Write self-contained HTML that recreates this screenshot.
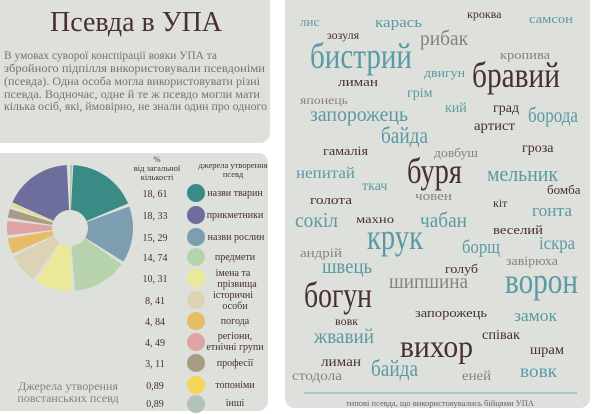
<!DOCTYPE html>
<html><head><meta charset="utf-8"><style>
html,body{margin:0;padding:0;background:#fff;width:600px;height:414px;overflow:hidden}
svg{display:block}
text{font-family:"Liberation Serif",serif}
.t{fill:#5b9aa5}.d{fill:#4a2f2f}.g{fill:#8a8080}
</style></head><body>
<svg width="600" height="414" viewBox="0 0 600 414" xmlns="http://www.w3.org/2000/svg">
<rect x="0" y="0" width="600" height="414" fill="#fff"/>
<rect x="-10" y="-10" width="280" height="153" rx="10" fill="#dde0db"/>
<rect x="-10" y="153" width="278" height="258" rx="10" fill="#dde0db"/>
<rect x="285" y="-10" width="305" height="418" rx="10" fill="#dde0db"/>

<text x="50" y="31" font-size="28" class="d" textLength="172" lengthAdjust="spacingAndGlyphs">Псевда в УПА</text>
<g fill="#7a7070" font-size="11.5">
<text x="4" y="59" textLength="213" lengthAdjust="spacingAndGlyphs">В умовах суворої конспірації вояки УПА та</text>
<text x="4" y="72" textLength="261" lengthAdjust="spacingAndGlyphs">збройного підпілля використовували псевдоніми</text>
<text x="4" y="85" textLength="256" lengthAdjust="spacingAndGlyphs">(псевда). Одна особа могла використовувати різні</text>
<text x="4" y="98" textLength="256" lengthAdjust="spacingAndGlyphs">псевда. Водночас, одне й те ж псевдо могли мати</text>
<text x="4" y="110" textLength="263" lengthAdjust="spacingAndGlyphs">кілька осіб, які, ймовірно, не знали один про одного</text>
</g>

<g transform="rotate(-87 70 228)" fill="none" stroke-width="45">
<circle cx="70" cy="228" r="40.5" stroke="#3a8a85" stroke-dasharray="45.2 300" stroke-dashoffset="0"/>
<circle cx="70" cy="228" r="40.5" stroke="#7d9db0" stroke-dasharray="36.8 300" stroke-dashoffset="-47.36"/>
<circle cx="70" cy="228" r="40.5" stroke="#b7d3ad" stroke-dasharray="35.4 300" stroke-dashoffset="-86.27"/>
<circle cx="70" cy="228" r="40.5" stroke="#ece89a" stroke-dasharray="24.1 300" stroke-dashoffset="-123.78"/>
<circle cx="70" cy="228" r="40.5" stroke="#dcd3b5" stroke-dasharray="19.3 300" stroke-dashoffset="-150.02"/>
<circle cx="70" cy="228" r="40.5" stroke="#e8bb66" stroke-dasharray="10.2 300" stroke-dashoffset="-171.42"/>
<circle cx="70" cy="228" r="40.5" stroke="#e0a3a3" stroke-dasharray="9.3 300" stroke-dashoffset="-183.74"/>
<circle cx="70" cy="228" r="40.5" stroke="#a89d82" stroke-dasharray="5.8 300" stroke-dashoffset="-195.17"/>
<circle cx="70" cy="228" r="40.5" stroke="#f2d65a" stroke-dasharray="1.3 300" stroke-dashoffset="-203.08"/>
<circle cx="70" cy="228" r="40.5" stroke="#6e6e9e" stroke-dasharray="44.5 300" stroke-dashoffset="-205.34"/>
<circle cx="70" cy="228" r="40.5" stroke="#b3c2b5" stroke-dasharray="1.3 300" stroke-dashoffset="-251.98"/>
</g>

<g font-size="8.5" fill="#4a2f2f" text-anchor="middle">
<text x="157" y="162">%</text>
<text x="157" y="171">від загальної</text>
<text x="157" y="180">кількості</text>
<text x="233" y="168">джерела утворення</text>
<text x="233" y="177">псевд</text>
</g>
<g font-size="10" fill="#4a2f2f" text-anchor="middle">
<text x="155" y="197">18, 61</text>
<text x="155" y="219">18, 33</text>
<text x="155" y="241">15, 29</text>
<text x="155" y="261">14, 74</text>
<text x="155" y="282">10, 31</text>
<text x="155" y="304">8, 41</text>
<text x="155" y="325">4, 84</text>
<text x="155" y="346">4, 49</text>
<text x="155" y="367">3, 11</text>
<text x="155" y="389">0,89</text>
<text x="155" y="407">0,89</text>
</g>
<circle cx="196" cy="193" r="9" fill="#3a8a85"/>
<circle cx="196" cy="215" r="9" fill="#6e6e9e"/>
<circle cx="196" cy="237" r="9" fill="#7d9db0"/>
<circle cx="196" cy="257" r="9" fill="#b7d3ad"/>
<circle cx="196" cy="278" r="9" fill="#ece89a"/>
<circle cx="196" cy="300" r="9" fill="#dcd3b5"/>
<circle cx="196" cy="321" r="9" fill="#e8bb66"/>
<circle cx="196" cy="342" r="9" fill="#e0a3a3"/>
<circle cx="196" cy="363" r="9" fill="#a89d82"/>
<circle cx="196" cy="385" r="9" fill="#f2d65a"/>
<circle cx="196" cy="404" r="9" fill="#b3c2b5"/>
<g font-size="10" fill="#4a2f2f" text-anchor="middle">
<text x="235" y="196">назви тварин</text>
<text x="235" y="218">прикметники</text>
<text x="236" y="240">назви рослин</text>
<text x="235" y="260">предмети</text>
<text x="233" y="276">імена та</text>
<text x="237" y="287">прізвища</text>
<text x="233" y="298">історичні</text>
<text x="235" y="309">особи</text>
<text x="235" y="324">погода</text>
<text x="235" y="339">регіони,</text>
<text x="235" y="350">етнічні групи</text>
<text x="235" y="366">професії</text>
<text x="235" y="388">топоніми</text>
<text x="235" y="406">інші</text>
</g>
<g font-size="12" fill="#8a8080" text-anchor="middle">
<text x="68" y="390">Джерела утворення</text>
<text x="68" y="402">повстанських псевд</text>
</g>

<g>
<text x="300" y="26" font-size="13" class="t">лис</text>
<text x="375" y="27" font-size="15" class="t" textLength="47" lengthAdjust="spacingAndGlyphs">карась</text>
<text x="467" y="18" font-size="12" class="d">кроква</text>
<text x="529" y="23" font-size="13" class="t" textLength="44" lengthAdjust="spacingAndGlyphs">самсон</text>
<text x="327" y="39" font-size="12" class="d">зозуля</text>
<text x="420" y="45" font-size="21" class="g" textLength="48" lengthAdjust="spacingAndGlyphs">рибак</text>
<text x="310" y="68" font-size="36" class="t" textLength="102" lengthAdjust="spacingAndGlyphs">бистрий</text>
<text x="500" y="59" font-size="13" class="g" textLength="50" lengthAdjust="spacingAndGlyphs">кропива</text>
<text x="424" y="77" font-size="13" class="t" textLength="41" lengthAdjust="spacingAndGlyphs">двигун</text>
<text x="472" y="87" font-size="36" class="d" textLength="88" lengthAdjust="spacingAndGlyphs">бравий</text>
<text x="338" y="86" font-size="13" class="d" textLength="40" lengthAdjust="spacingAndGlyphs">лиман</text>
<text x="407" y="97" font-size="14" class="t">грім</text>
<text x="300" y="104" font-size="12" class="g" textLength="48" lengthAdjust="spacingAndGlyphs">японець</text>
<text x="445" y="112" font-size="14" class="t">кий</text>
<text x="493" y="112" font-size="14" class="d">град</text>
<text x="310" y="121" font-size="21" class="t" textLength="98" lengthAdjust="spacingAndGlyphs">запорожець</text>
<text x="528" y="122" font-size="21" class="t" textLength="50" lengthAdjust="spacingAndGlyphs">борода</text>
<text x="474" y="130" font-size="14" class="d" textLength="41" lengthAdjust="spacingAndGlyphs">артист</text>
<text x="381" y="143" font-size="23" class="t" textLength="47" lengthAdjust="spacingAndGlyphs">байда</text>
<text x="323" y="155" font-size="13" class="d" textLength="45" lengthAdjust="spacingAndGlyphs">гамалія</text>
<text x="434" y="157" font-size="13" class="g" textLength="44" lengthAdjust="spacingAndGlyphs">довбуш</text>
<text x="522" y="152" font-size="14" class="d">гроза</text>
<text x="296" y="178" font-size="16" class="t" textLength="59" lengthAdjust="spacingAndGlyphs">непитай</text>
<text x="407" y="183" font-size="36" class="d" textLength="55" lengthAdjust="spacingAndGlyphs">буря</text>
<text x="487" y="181" font-size="22" class="t" textLength="71" lengthAdjust="spacingAndGlyphs">мельник</text>
<text x="362" y="190" font-size="14" class="t">ткач</text>
<text x="547" y="194" font-size="13" class="d">бомба</text>
<text x="415" y="200" font-size="13" class="g" textLength="37" lengthAdjust="spacingAndGlyphs">човен</text>
<text x="310" y="204" font-size="13" class="d" textLength="42" lengthAdjust="spacingAndGlyphs">голота</text>
<text x="493" y="207" font-size="12" class="d">кіт</text>
<text x="532" y="216" font-size="17" class="t" textLength="40" lengthAdjust="spacingAndGlyphs">гонта</text>
<text x="295" y="227" font-size="21" class="t" textLength="43" lengthAdjust="spacingAndGlyphs">сокіл</text>
<text x="356" y="223" font-size="12" class="d" textLength="38" lengthAdjust="spacingAndGlyphs">махно</text>
<text x="420" y="227" font-size="21" class="t" textLength="47" lengthAdjust="spacingAndGlyphs">чабан</text>
<text x="493" y="234" font-size="13" class="d" textLength="50" lengthAdjust="spacingAndGlyphs">веселий</text>
<text x="367" y="249" font-size="36" class="t" textLength="56" lengthAdjust="spacingAndGlyphs">крук</text>
<text x="462" y="253" font-size="19" class="t" textLength="38" lengthAdjust="spacingAndGlyphs">борщ</text>
<text x="539" y="249" font-size="18" class="t" textLength="36" lengthAdjust="spacingAndGlyphs">іскра</text>
<text x="300" y="257" font-size="13" class="g" textLength="42" lengthAdjust="spacingAndGlyphs">андрій</text>
<text x="322" y="273" font-size="21" class="t" textLength="50" lengthAdjust="spacingAndGlyphs">швець</text>
<text x="506" y="265" font-size="13" class="g" textLength="52" lengthAdjust="spacingAndGlyphs">завірюха</text>
<text x="445" y="273" font-size="13" class="d" textLength="33" lengthAdjust="spacingAndGlyphs">голуб</text>
<text x="389" y="288" font-size="21" class="g" textLength="79" lengthAdjust="spacingAndGlyphs">шипшина</text>
<text x="505" y="293" font-size="36" class="t" textLength="73" lengthAdjust="spacingAndGlyphs">ворон</text>
<text x="304" y="307" font-size="36" class="d" textLength="68" lengthAdjust="spacingAndGlyphs">богун</text>
<text x="415" y="317" font-size="13" class="d" textLength="72" lengthAdjust="spacingAndGlyphs">запорожець</text>
<text x="514" y="321" font-size="17" class="t" textLength="43" lengthAdjust="spacingAndGlyphs">замок</text>
<text x="335" y="325" font-size="12" class="d">вовк</text>
<text x="314" y="343" font-size="21" class="t" textLength="60" lengthAdjust="spacingAndGlyphs">жвавий</text>
<text x="482" y="339" font-size="14" class="d" textLength="38" lengthAdjust="spacingAndGlyphs">співак</text>
<text x="400" y="357" font-size="32" class="d" textLength="73" lengthAdjust="spacingAndGlyphs">вихор</text>
<text x="530" y="354" font-size="14" class="d" textLength="34" lengthAdjust="spacingAndGlyphs">шрам</text>
<text x="321" y="366" font-size="14" class="d" textLength="40" lengthAdjust="spacingAndGlyphs">лиман</text>
<text x="371" y="376" font-size="23" class="t" textLength="47" lengthAdjust="spacingAndGlyphs">байда</text>
<text x="292" y="380" font-size="14" class="g" textLength="50" lengthAdjust="spacingAndGlyphs">стодола</text>
<text x="462" y="380" font-size="14" class="g" textLength="29" lengthAdjust="spacingAndGlyphs">еней</text>
<text x="520" y="377" font-size="18" class="t" textLength="37" lengthAdjust="spacingAndGlyphs">вовк</text>
</g>
<line x1="304" y1="393" x2="577" y2="393" stroke="#7fb0b8" stroke-width="1"/>
<text x="440" y="406" font-size="8.5" fill="#6a6262" text-anchor="middle">типові псевда, що використовувались бійцями УПА</text>
</svg>
</body></html>
